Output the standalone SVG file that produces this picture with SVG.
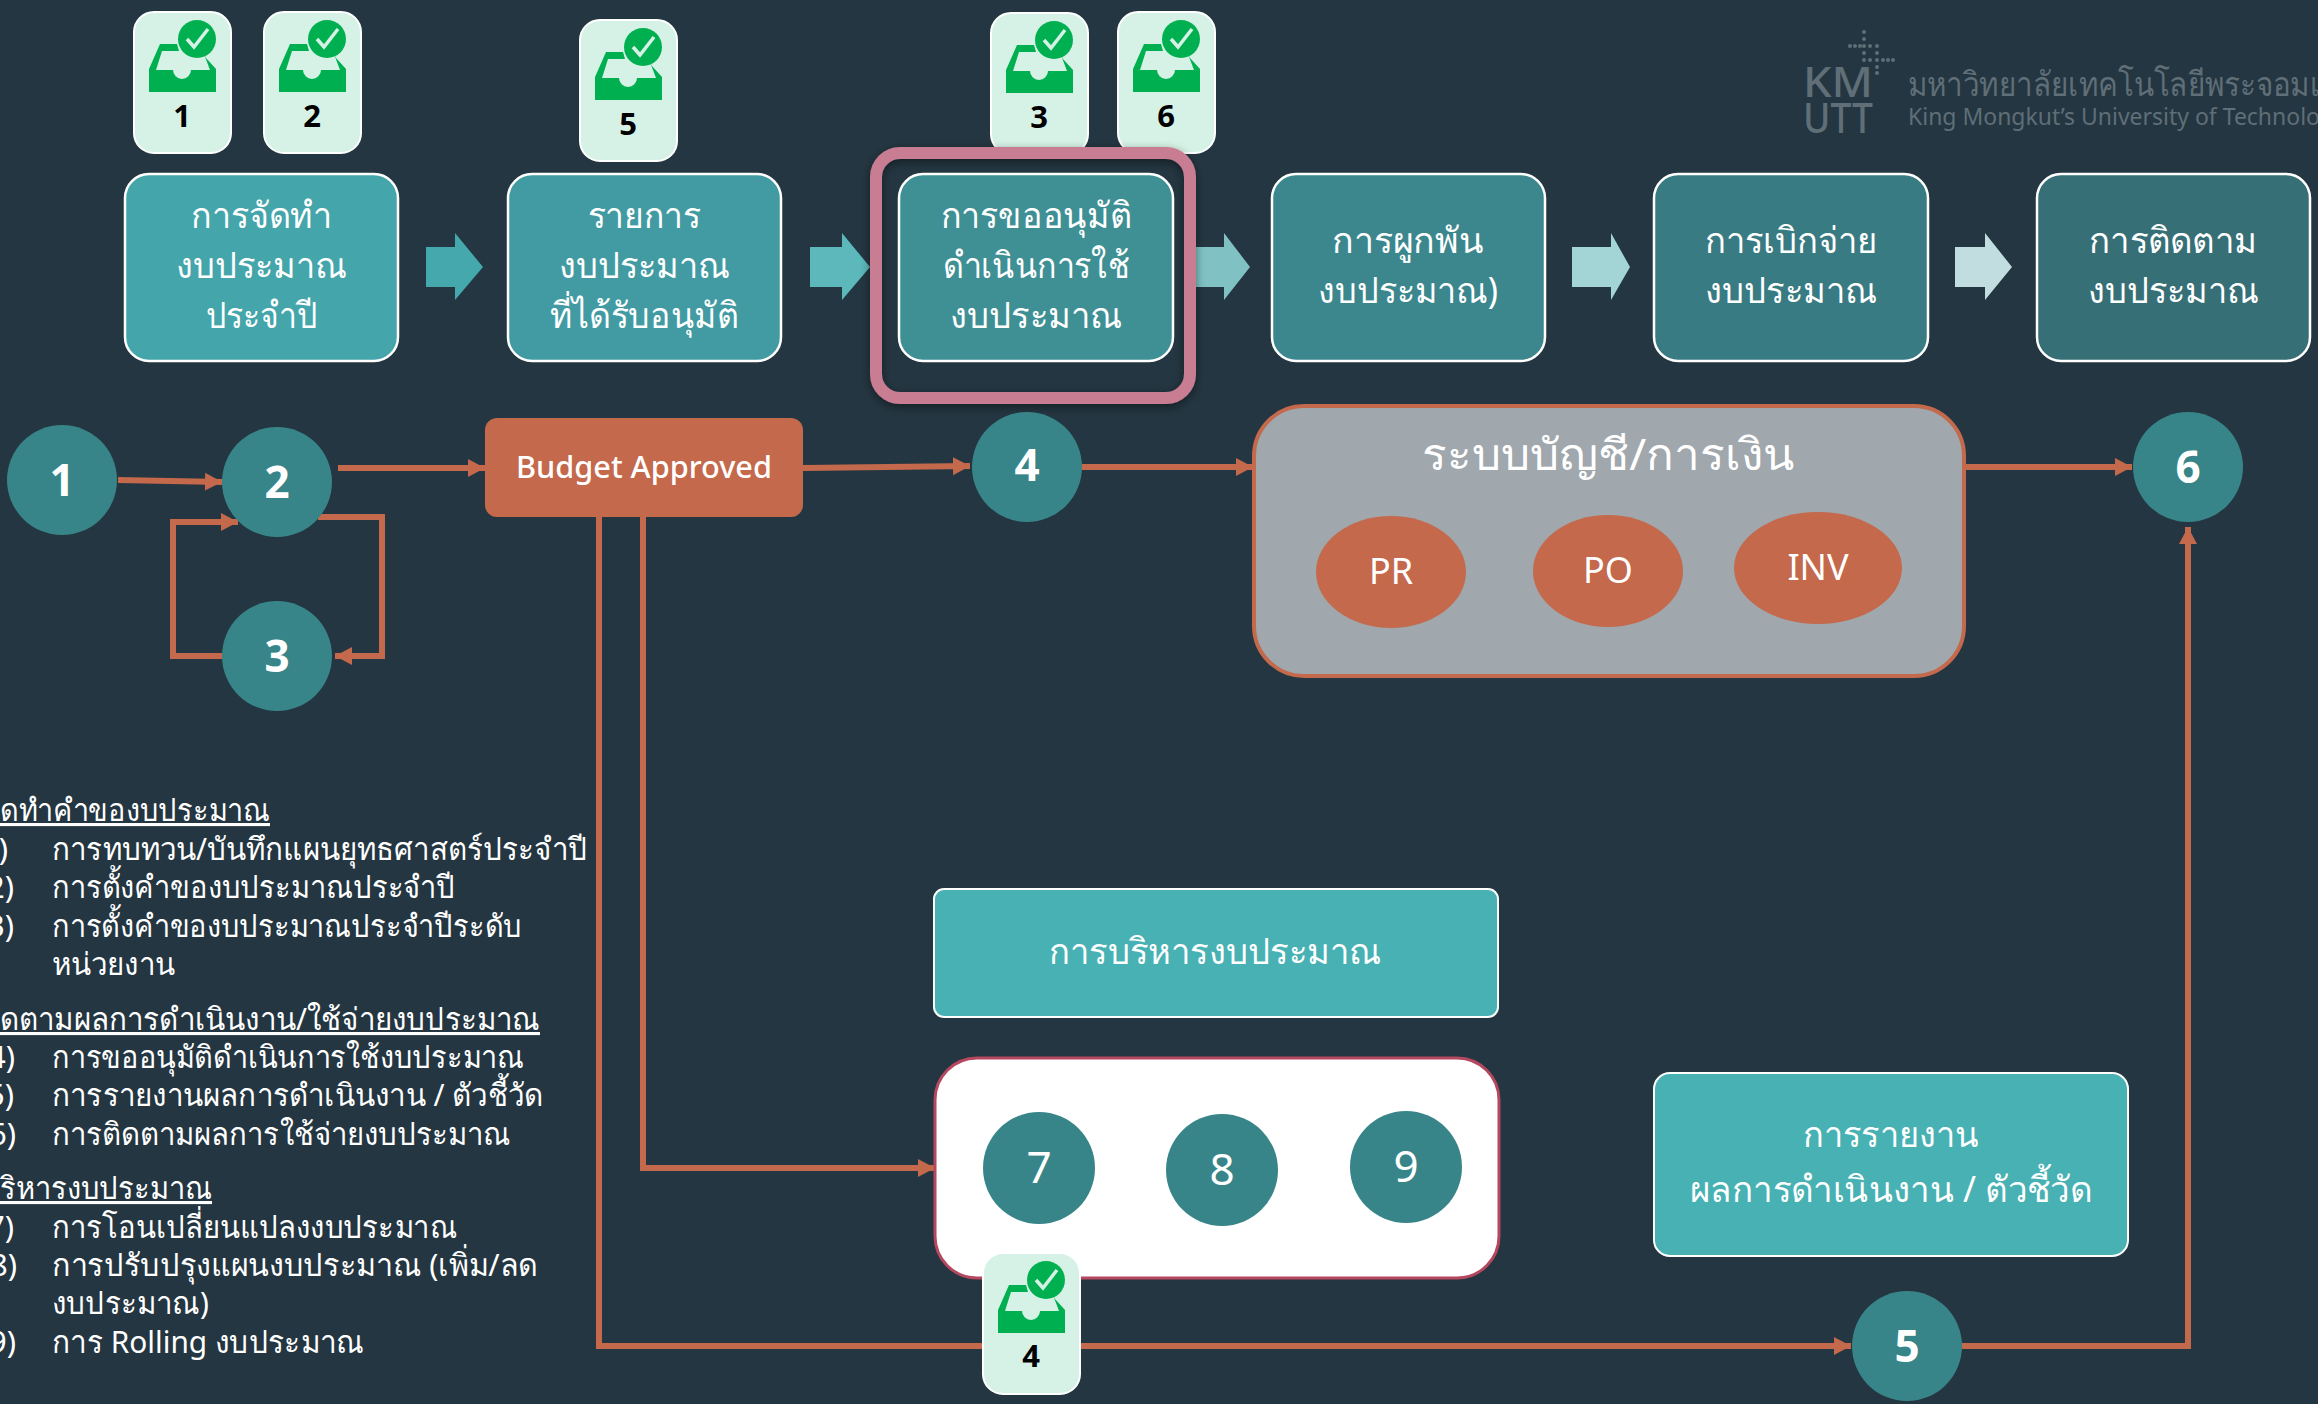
<svg xmlns="http://www.w3.org/2000/svg" width="2318" height="1404" viewBox="0 0 2318 1404">
<style>
text{font-family:"Noto Sans","Noto Sans CJK SC","DejaVu Sans",sans-serif}
.proc{stroke:#fff;stroke-width:2.5}
.pt{fill:#fff;font-size:36px;text-anchor:middle}
.badge{fill:#d6f2e6;stroke:#fff;stroke-width:2}
.num{fill:#000;font-size:31px;font-weight:700;text-anchor:middle}
.circ{fill:#388589}
.cn{fill:#fff;font-size:44px;font-weight:700;text-anchor:middle}
.cl{fill:#fff;font-size:44px;font-weight:400;text-anchor:middle}
.el{fill:#c4694b}
.et{fill:#fff;font-size:36px;text-anchor:middle}
.conn{fill:none;stroke:#c4694b;stroke-width:6}
.arrow{marker-end:url(#ah)}
.list{fill:#fff;font-size:31px}
.head{text-decoration:underline}
.logo{fill:#5f6e77}
.teal{fill:#47b1b3;stroke:#fff;stroke-width:2}
</style>
<defs>
<marker id="ah" markerUnits="userSpaceOnUse" markerWidth="22" markerHeight="22" refX="17" refY="11" orient="auto"><path d="M0 2L17 11L0 20Z" fill="#c4694b"/></marker>
<filter id="sh" x="-10%" y="-10%" width="120%" height="125%"><feDropShadow dx="0" dy="3" stdDeviation="5" flood-color="#000" flood-opacity="0.45"/></filter>
<g id="icon">
<rect class="badge" x="0" y="0" width="97" height="141" rx="20"/>
<path d="M15 80V57L26 32H43L45 39H28L22 58H39A9 9 0 0 0 57 58H76L70 42L72 46L82 57V80Z" fill="#00b050"/>
<circle cx="63" cy="27" r="19" fill="#00b050"/>
<path d="M53 27L60 35L74 17" fill="none" stroke="#d6f2e6" stroke-width="3.5"/>
</g>
</defs>
<rect width="2318" height="1404" fill="#243641"/>

<g id="connectors">
<path class="conn arrow" d="M118 480L222 482"/>
<path class="conn arrow" d="M338 468H485"/>
<path class="conn arrow" d="M318 517H382V656H335"/>
<path class="conn arrow" d="M222 656H173V522H238"/>
<path class="conn arrow" d="M803 468L970 466"/>
<path class="conn arrow" d="M1082 467H1253"/>
<path class="conn arrow" d="M1964 467H2132"/>
<path class="conn arrow" d="M643 517V1168H935"/>
<path class="conn arrow" d="M599 517V1346H1851"/>
<path class="conn arrow" d="M1962 1346H2188V527"/>
</g>

<g id="flow-arrows">
<path d="M426 247H455V233L483 267L455 300V287H426Z" fill="#44a8ad"/>
<path d="M810 247H842V233L870 267L842 300V287H810Z" fill="#5cb8bb"/>
<path d="M1190 247H1224V233L1250 267L1224 300V287H1190Z" fill="#80c2c4"/>
<path d="M1572 247H1611V233L1630 267L1611 300V287H1572Z" fill="#a3d5d6"/>
<path d="M1955 247H1985V233L2012 267L1985 300V287H1955Z" fill="#c1dddf"/>
</g>

<g id="box-1"><rect class="proc" x="125" y="174" width="273" height="187" rx="24" fill="#44a5aa"/>
<text class="pt" x="261.5" y="228" textLength="141" lengthAdjust="spacingAndGlyphs">การจัดทำ</text>
<text class="pt" x="261.5" y="278" textLength="171" lengthAdjust="spacingAndGlyphs">งบประมาณ</text>
<text class="pt" x="261.5" y="328" textLength="111" lengthAdjust="spacingAndGlyphs">ประจำปี</text></g>
<g id="box-2"><rect class="proc" x="508" y="174" width="273" height="187" rx="24" fill="#429ba2"/>
<text class="pt" x="644" y="228" textLength="113" lengthAdjust="spacingAndGlyphs">รายการ</text>
<text class="pt" x="644" y="278" textLength="171" lengthAdjust="spacingAndGlyphs">งบประมาณ</text>
<text class="pt" x="644" y="328" textLength="189" lengthAdjust="spacingAndGlyphs">ที่ได้รับอนุมัติ</text></g>
<g id="box-3"><rect class="proc" x="899" y="174" width="274" height="187" rx="24" fill="#3f9095"/>
<text class="pt" x="1036" y="228" textLength="191" lengthAdjust="spacingAndGlyphs">การขออนุมัติ</text>
<text class="pt" x="1036" y="278" textLength="186" lengthAdjust="spacingAndGlyphs">ดำเนินการใช้</text>
<text class="pt" x="1036" y="328" textLength="172" lengthAdjust="spacingAndGlyphs">งบประมาณ</text></g>
<g id="box-4"><rect class="proc" x="1272" y="174" width="273" height="187" rx="24" fill="#3b878d"/>
<text class="pt" x="1408" y="253" textLength="152" lengthAdjust="spacingAndGlyphs">การผูกพัน</text>
<text class="pt" x="1408" y="303" textLength="180" lengthAdjust="spacingAndGlyphs">งบประมาณ)</text></g>
<g id="box-5"><rect class="proc" x="1654" y="174" width="274" height="187" rx="24" fill="#397b82"/>
<text class="pt" x="1791" y="253" textLength="173" lengthAdjust="spacingAndGlyphs">การเบิกจ่าย</text>
<text class="pt" x="1791" y="303" textLength="172" lengthAdjust="spacingAndGlyphs">งบประมาณ</text></g>
<g id="box-6"><rect class="proc" x="2037" y="174" width="273" height="187" rx="24" fill="#376f77"/>
<text class="pt" x="2173" y="253" textLength="168" lengthAdjust="spacingAndGlyphs">การติดตาม</text>
<text class="pt" x="2173" y="303" textLength="171" lengthAdjust="spacingAndGlyphs">งบประมาณ</text></g>

<g id="badge-1" transform="translate(134 12)"><use href="#icon"/><text class="num" x="48" y="115">1</text></g>
<g id="badge-2" transform="translate(264 12)"><use href="#icon"/><text class="num" x="48" y="115">2</text></g>
<g id="badge-5" transform="translate(580 20)"><use href="#icon"/><text class="num" x="48" y="115">5</text></g>
<g id="badge-3" transform="translate(991 13)"><use href="#icon"/><text class="num" x="48" y="115">3</text></g>
<g id="badge-6" transform="translate(1118 12)"><use href="#icon"/><text class="num" x="48" y="115">6</text></g>

<g id="highlight"><rect x="876" y="153" width="314" height="245" rx="24" fill="none" stroke="#c97d93" stroke-width="12" filter="url(#sh)"/></g>

<g id="logo">
<text class="logo" x="1803" y="97" font-size="42" font-weight="500" textLength="70" lengthAdjust="spacingAndGlyphs">KM</text>
<text class="logo" x="1803" y="133" font-size="42" font-weight="500" textLength="70" lengthAdjust="spacingAndGlyphs">UTT</text>
<g class="logo"><circle cx="1864" cy="32" r="2"/><circle cx="1864" cy="39" r="2"/><circle cx="1850" cy="46" r="2"/><circle cx="1855" cy="46" r="2"/><circle cx="1860" cy="46" r="2"/><circle cx="1864" cy="46" r="2"/><circle cx="1870" cy="46" r="2"/><circle cx="1877" cy="46" r="2"/><circle cx="1864" cy="53" r="2"/><circle cx="1877" cy="53" r="2"/><circle cx="1864" cy="60" r="2"/><circle cx="1870" cy="60" r="2"/><circle cx="1877" cy="60" r="2"/><circle cx="1883" cy="60" r="2"/><circle cx="1888" cy="60" r="2"/><circle cx="1893" cy="60" r="2"/><circle cx="1877" cy="67" r="2"/><circle cx="1877" cy="73" r="2"/></g>
<text class="logo" x="1908" y="96" font-size="34" textLength="412" lengthAdjust="spacingAndGlyphs">มหาวิทยาลัยเทคโนโลยีพระจอมเ</text>
<text class="logo" x="1908" y="125" font-size="24" textLength="412" lengthAdjust="spacingAndGlyphs">King Mongkut’s University of Technolo</text>
</g>

<g id="n1"><circle class="circ" cx="62" cy="480" r="55"/><text class="cn" x="62" y="496">1</text></g>
<g id="n2"><circle class="circ" cx="277" cy="482" r="55"/><text class="cn" x="277" y="498">2</text></g>
<g id="n3"><circle class="circ" cx="277" cy="656" r="55"/><text class="cn" x="277" y="672">3</text></g>
<g id="n4"><circle class="circ" cx="1027" cy="467" r="55"/><text class="cn" x="1027" y="481">4</text></g>
<g id="n5"><circle class="circ" cx="1907" cy="1346" r="55"/><text class="cn" x="1907" y="1362">5</text></g>
<g id="n6"><circle class="circ" cx="2188" cy="467" r="55"/><text class="cn" x="2188" y="483">6</text></g>

<g id="budget-approved"><rect class="el" x="485" y="418" width="318" height="99" rx="12"/><text fill="#fff" font-size="30" font-weight="500" text-anchor="middle" x="644" y="478" textLength="256" lengthAdjust="spacingAndGlyphs">Budget Approved</text></g>

<g id="accounting"><rect x="1254" y="406" width="710" height="270" rx="50" fill="#a0a7ad" stroke="#c4694b" stroke-width="4"/>
<text fill="#fff" font-size="44" text-anchor="middle" x="1608" y="470" textLength="372" lengthAdjust="spacingAndGlyphs">ระบบบัญชี/การเงิน</text>
<g><ellipse class="el" cx="1391" cy="572" rx="75" ry="56"/><text class="et" x="1391" y="584">PR</text></g>
<g><ellipse class="el" cx="1608" cy="571" rx="75" ry="56"/><text class="et" x="1608" y="583">PO</text></g>
<g><ellipse class="el" cx="1818" cy="568" rx="84" ry="56"/><text class="et" x="1818" y="580">INV</text></g>
</g>

<g id="budget-admin-title"><rect class="teal" x="934" y="889" width="564" height="128" rx="10"/><text class="pt" x="1215" y="964" textLength="332" lengthAdjust="spacingAndGlyphs">การบริหารงบประมาณ</text></g>

<g id="budget-admin"><rect x="935" y="1058" width="564" height="220" rx="42" fill="#fff" stroke="#b5475f" stroke-width="3"/>
<g><circle class="circ" cx="1039" cy="1168" r="56"/><text class="cl" x="1039" y="1183">7</text></g>
<g><circle class="circ" cx="1222" cy="1170" r="56"/><text class="cl" x="1222" y="1185">8</text></g>
<g><circle class="circ" cx="1406" cy="1167" r="56"/><text class="cl" x="1406" y="1182">9</text></g>
</g>

<g id="report"><rect class="teal" x="1654" y="1073" width="474" height="183" rx="16"/>
<text class="pt" x="1891" y="1147" textLength="176" lengthAdjust="spacingAndGlyphs">การรายงาน</text>
<text class="pt" x="1891" y="1202" textLength="402" lengthAdjust="spacingAndGlyphs">ผลการดำเนินงาน / ตัวชี้วัด</text></g>

<g id="badge-4" transform="translate(983 1253)"><use href="#icon"/><text class="num" x="48" y="114">4</text></g>

<g id="list">
<text class="list head" x="0" y="821" textLength="270" lengthAdjust="spacingAndGlyphs">ดทำคำของบประมาณ</text>
<text class="list" x="-19" y="860">1)</text><text class="list" x="52" y="860" textLength="535" lengthAdjust="spacingAndGlyphs">การทบทวน/บันทึกแผนยุทธศาสตร์ประจำปี</text>
<text class="list" x="-13" y="898">2)</text><text class="list" x="52" y="898" textLength="403" lengthAdjust="spacingAndGlyphs">การตั้งคำของบประมาณประจำปี</text>
<text class="list" x="-13" y="937">3)</text><text class="list" x="52" y="937" textLength="470" lengthAdjust="spacingAndGlyphs">การตั้งคำของบประมาณประจำปีระดับ</text>
<text class="list" x="52" y="975" textLength="123" lengthAdjust="spacingAndGlyphs">หน่วยงาน</text>
<text class="list head" x="0" y="1030" textLength="540" lengthAdjust="spacingAndGlyphs">ดตามผลการดำเนินงาน/ใช้จ่ายงบประมาณ</text>
<text class="list" x="-12" y="1068">4)</text><text class="list" x="52" y="1068" textLength="472" lengthAdjust="spacingAndGlyphs">การขออนุมัติดำเนินการใช้งบประมาณ</text>
<text class="list" x="-13" y="1106">5)</text><text class="list" x="52" y="1106" textLength="491" lengthAdjust="spacingAndGlyphs">การรายงานผลการดำเนินงาน / ตัวชี้วัด</text>
<text class="list" x="-11" y="1145">6)</text><text class="list" x="52" y="1145" textLength="459" lengthAdjust="spacingAndGlyphs">การติดตามผลการใช้จ่ายงบประมาณ</text>
<text class="list head" x="0" y="1199" textLength="212" lengthAdjust="spacingAndGlyphs">ริหารงบประมาณ</text>
<text class="list" x="-13" y="1238">7)</text><text class="list" x="52" y="1238" textLength="405" lengthAdjust="spacingAndGlyphs">การโอนเปลี่ยนแปลงงบประมาณ</text>
<text class="list" x="-10" y="1276">8)</text><text class="list" x="52" y="1276" textLength="486" lengthAdjust="spacingAndGlyphs">การปรับปรุงแผนงบประมาณ (เพิ่ม/ลด</text>
<text class="list" x="52" y="1314" textLength="157" lengthAdjust="spacingAndGlyphs">งบประมาณ)</text>
<text class="list" x="-11" y="1353">9)</text><text class="list" x="52" y="1353" textLength="312" lengthAdjust="spacingAndGlyphs">การ Rolling งบประมาณ</text>
</g>
</svg>
